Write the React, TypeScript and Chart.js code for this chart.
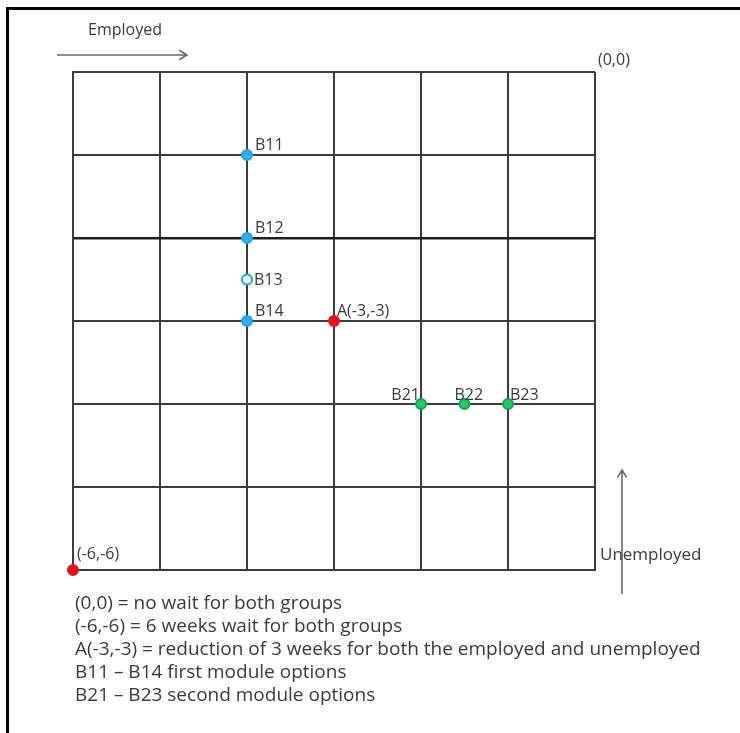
import React, { useEffect, useRef } from 'react';
import { Chart, registerables } from 'chart.js';

Chart.register(...registerables);

// ---- data ----
const AXIS_MIN = -6;
const AXIS_MAX = 0;
const AXIS_STEP = 1;

const blueLabels = ['B11', 'B12', 'B13', 'B14'];
const blueX = [-4, -4, -4, -4];
const blueY = [-1, -2, -2.5, -3];

const redLabels = ['A(-3,-3)', '(-6,-6)'];
const redX = [-3, -6];
const redY = [-3, -6];

const greenLabels = ['B21', 'B22', 'B23'];
const greenX = [-2, -1.5, -1];
const greenY = [-4, -4, -4];

const cornerLabel = '(0,0)';
const xAxisName = 'Employed';
const yAxisName = 'Unemployed';

const notes = [
  '(0,0) = no wait for both groups',
  '(-6,-6) = 6 weeks wait for both groups',
  'A(-3,-3) = reduction of 3 weeks for both the employed and unemployed',
  'B11 \u2013 B14 first module options',
  'B21 \u2013 B23 second module options',
];

// ---- styles (label placement relative to each point) ----
const labelStyle: Record<string, { dx: number; dy: number; align: CanvasTextAlign }> = {
  B11: { dx: 8, dy: -10, align: 'left' },
  B12: { dx: 8, dy: -10, align: 'left' },
  B13: { dx: 7, dy: 1, align: 'left' },
  B14: { dx: 8, dy: -10, align: 'left' },
  'A(-3,-3)': { dx: 3, dy: -10, align: 'left' },
  '(-6,-6)': { dx: 4, dy: -16, align: 'left' },
  B21: { dx: -1, dy: -9, align: 'right' },
  B22: { dx: -10, dy: -9, align: 'left' },
  B23: { dx: 2, dy: -9, align: 'left' },
};

const FONT = '"Open Sans", Lato, "DejaVu Sans", sans-serif';
const TEXT = '#3a3a3a';
const GRID = '#3c3c3c';

const toPts = (xs: number[], ys: number[]) => xs.map((x, i) => ({ x, y: ys[i] }));

function drawArrow(ctx: CanvasRenderingContext2D, x1: number, y1: number, x2: number, y2: number) {
  const ang = Math.atan2(y2 - y1, x2 - x1);
  const h = 9;
  ctx.beginPath();
  ctx.moveTo(x1, y1);
  ctx.lineTo(x2, y2);
  ctx.moveTo(x2 - h * Math.cos(ang - 0.55), y2 - h * Math.sin(ang - 0.55));
  ctx.lineTo(x2, y2);
  ctx.lineTo(x2 - h * Math.cos(ang + 0.55), y2 - h * Math.sin(ang + 0.55));
  ctx.stroke();
}

const decorPlugin = {
  id: 'decor',
  afterDatasetsDraw(chart: any) {
    const ctx: CanvasRenderingContext2D = chart.ctx;
    const area = chart.chartArea;
    ctx.save();
    // point labels
    ctx.fillStyle = TEXT;
    ctx.textBaseline = 'middle';
    ctx.font = `16px ${FONT}`;
    chart.data.datasets.forEach((ds: any, di: number) => {
      const meta = chart.getDatasetMeta(di);
      meta.data.forEach((el: any, i: number) => {
        const lab = ds.pointLabels[i];
        const st = labelStyle[lab];
        ctx.textAlign = st.align;
        ctx.fillText(lab, el.x + st.dx, el.y + st.dy);
      });
    });
    // corner label
    ctx.textAlign = 'left';
    ctx.fillText(cornerLabel, area.right + 3, area.top - 12);

    // axis direction arrows
    ctx.strokeStyle = '#6a6a6a';
    ctx.lineWidth = 1.6;
    drawArrow(ctx, area.left - 16, area.top - 17, area.left + 114, area.top - 17);
    ctx.font = `16px ${FONT}`;
    ctx.fillText(xAxisName, area.left + 15, area.top - 42);

    drawArrow(ctx, area.right + 27, area.bottom + 24, area.right + 27, area.bottom - 100);
    ctx.font = `17px ${FONT}`;
    ctx.fillText(yAxisName, area.right + 5, area.bottom - 15);

    // notes
    ctx.font = `19px ${FONT}`;
    notes.forEach((n, i) => {
      ctx.fillText(n, area.left + 2, area.bottom + 34 + i * 23);
    });

    // frame
    ctx.fillStyle = '#000';
    ctx.fillRect(6, 7, chart.width - 6, 3);
    ctx.fillRect(6, 7, 3, chart.height - 7);
    ctx.restore();
  },
};

export default function App() {
  const ref = useRef<HTMLCanvasElement | null>(null);
  useEffect(() => {
    if (!ref.current) return;
    const chart = new Chart(ref.current, {
      type: 'scatter',
      data: {
        datasets: [
          {
            data: toPts(blueX, blueY),
            pointLabels: blueLabels,
            backgroundColor: ['#2fb0e6', '#2fb0e6', '#ffffff', '#2fb0e6'],
            borderColor: '#1ea6e0',
            pointRadius: 5,
            pointBorderWidth: 2,
            clip: false,
          } as any,
          {
            data: toPts(redX, redY),
            pointLabels: redLabels,
            backgroundColor: '#e3141c',
            borderColor: '#e3141c',
            pointRadius: 5,
            pointBorderWidth: 2,
            clip: false,
          } as any,
          {
            data: toPts(greenX, greenY),
            pointLabels: greenLabels,
            backgroundColor: '#2cc46a',
            borderColor: '#10a84e',
            pointRadius: 5,
            pointBorderWidth: 2,
            clip: false,
          } as any,
        ],
      },
      options: {
        animation: false,
        responsive: false,
        devicePixelRatio: 1,
        layout: { padding: { left: 73, top: 72, right: 145, bottom: 163 } },
        plugins: { legend: { display: false }, tooltip: { enabled: false } },
        scales: {
          x: {
            type: 'linear',
            min: AXIS_MIN,
            max: AXIS_MAX,
            ticks: { display: false, stepSize: AXIS_STEP },
            grid: { color: GRID, lineWidth: 2, drawTicks: false },
            border: { display: true, color: GRID, width: 2 },
            afterFit: (s: any) => { s.height = 0; },
          },
          y: {
            type: 'linear',
            min: AXIS_MIN,
            max: AXIS_MAX,
            ticks: { display: false, stepSize: AXIS_STEP },
            grid: {
              color: (c: any) => (c.tick && c.tick.value === -2 ? '#1e1e1e' : GRID),
              lineWidth: (c: any) => (c.tick && c.tick.value === -2 ? 2.6 : 2),
              drawTicks: false,
            },
            border: { display: true, color: GRID, width: 2 },
            afterFit: (s: any) => { s.width = 0; },
          },
        },
      } as any,
      plugins: [decorPlugin],
    });
    return () => chart.destroy();
  }, []);
  return (
    <div style={{ position: 'fixed', left: 0, top: 0, width: 740, height: 733, background: '#fff' }}>
      <canvas ref={ref} width={740} height={733} style={{ display: 'block' }} />
    </div>
  );
}
